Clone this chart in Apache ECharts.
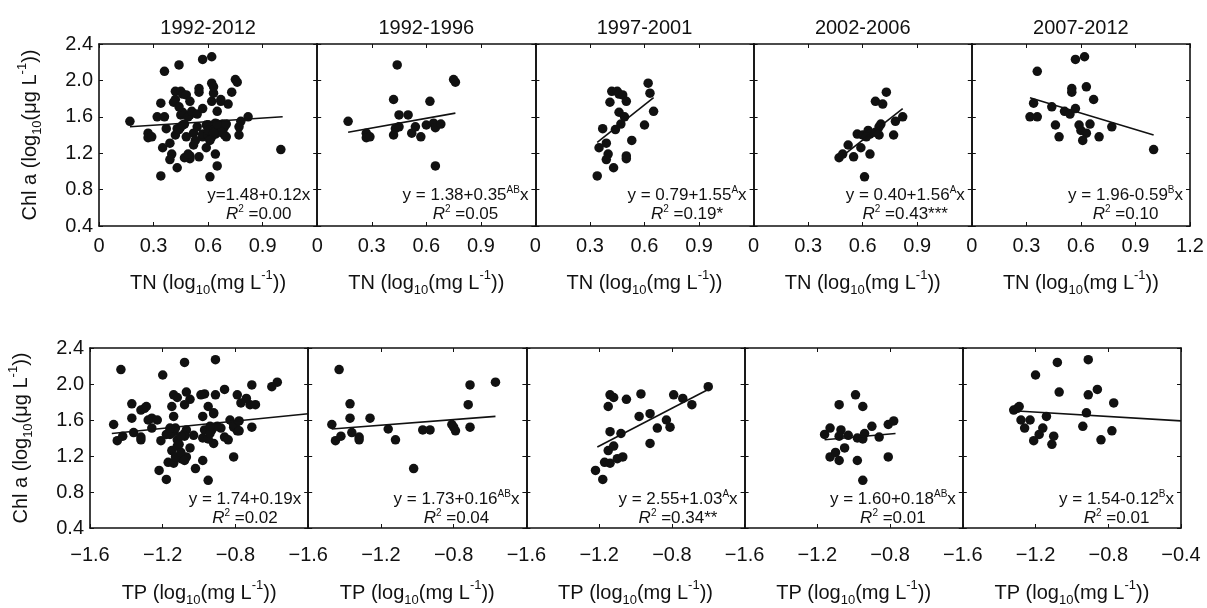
<!DOCTYPE html>
<html>
<head>
<meta charset="utf-8">
<title>Chl a vs TN / TP</title>
<script src="https://cdn.jsdelivr.net/npm/echarts@6/dist/echarts.min.js"></script>
<style>html,body{margin:0;padding:0;background:#fff;}</style>
</head>
<body>
<div id="main" style="width:1207px;height:608px;"></div>
<script type="text/javascript">
// periods (panel titles)
var periods = ['1992-2012', '1992-1996', '1997-2001', '2002-2006', '2007-2012'];

// TN (x) vs Chl a (y), one array per period
var tn9296 = [[0.17,1.55],[0.27,1.42],[0.27,1.37],[0.29,1.38],[0.42,1.40],[0.44,2.17],[0.42,1.79],[0.45,1.62],[0.43,1.47],[0.45,1.49],[0.50,1.62],[0.52,1.42],[0.54,1.49],[0.57,1.38],[0.62,1.77],[0.60,1.51],[0.64,1.53],[0.65,1.48],[0.68,1.52],[0.65,1.06],[0.75,2.01],[0.76,1.98]];
var tn9701 = [[0.34,0.95],[0.35,1.26],[0.37,1.47],[0.39,1.31],[0.40,1.19],[0.39,1.13],[0.43,1.04],[0.41,1.76],[0.42,1.88],[0.45,1.88],[0.46,1.85],[0.48,1.84],[0.50,1.77],[0.46,1.65],[0.49,1.60],[0.47,1.52],[0.44,1.46],[0.50,1.17],[0.50,1.14],[0.53,1.34],[0.62,1.97],[0.63,1.86],[0.65,1.66],[0.60,1.51]];
var tn0206 = [[0.47,1.15],[0.49,1.19],[0.52,1.29],[0.55,1.16],[0.59,1.26],[0.61,0.94],[0.64,1.19],[0.57,1.41],[0.60,1.40],[0.63,1.45],[0.64,1.41],[0.62,1.38],[0.67,1.77],[0.71,1.74],[0.73,1.87],[0.69,1.49],[0.70,1.52],[0.69,1.40],[0.77,1.40],[0.78,1.55],[0.82,1.60],[0.67,1.43]];
var tn0712 = [[0.32,1.60],[0.34,1.75],[0.36,2.10],[0.36,1.60],[0.44,1.71],[0.46,1.51],[0.48,1.38],[0.51,1.66],[0.54,1.63],[0.57,1.69],[0.55,1.87],[0.55,1.91],[0.57,2.23],[0.62,2.26],[0.63,1.93],[0.67,1.79],[0.59,1.51],[0.60,1.45],[0.63,1.42],[0.61,1.34],[0.65,1.52],[0.70,1.38],[0.77,1.49],[1.00,1.24]];

// TP (x) vs Chl a (y)
var tp9296 = [[-1.43,2.16],[-1.47,1.55],[-1.45,1.37],[-1.42,1.42],[-1.37,1.78],[-1.37,1.62],[-1.36,1.46],[-1.32,1.41],[-1.32,1.38],[-1.26,1.62],[-1.16,1.50],[-1.12,1.38],[-1.02,1.06],[-0.97,1.49],[-0.93,1.49],[-0.81,1.55],[-0.80,1.52],[-0.79,1.48],[-0.72,1.77],[-0.71,1.52],[-0.71,1.99],[-0.57,2.02]];
var tp9701 = [[-1.22,1.04],[-1.18,0.94],[-1.17,1.13],[-1.14,1.12],[-1.15,1.26],[-1.12,1.31],[-1.14,1.47],[-1.15,1.75],[-1.14,1.88],[-1.12,1.85],[-1.10,1.17],[-1.07,1.19],[-1.08,1.45],[-1.05,1.83],[-0.98,1.64],[-0.97,1.89],[-0.92,1.67],[-0.92,1.34],[-0.88,1.51],[-0.83,1.60],[-0.81,1.52],[-0.79,1.88],[-0.74,1.84],[-0.69,1.77],[-0.60,1.97]];
var tp0206 = [[-1.16,1.44],[-1.13,1.51],[-1.13,1.19],[-1.10,1.24],[-1.08,1.15],[-1.08,1.77],[-1.07,1.49],[-1.08,1.42],[-1.05,1.29],[-1.03,1.43],[-0.99,1.88],[-0.98,1.40],[-0.98,1.15],[-0.95,1.75],[-0.95,0.93],[-0.95,1.39],[-0.94,1.45],[-0.90,1.53],[-0.86,1.41],[-0.81,1.19],[-0.81,1.55],[-0.78,1.59]];
var tp0712 = [[-1.32,1.71],[-1.30,1.73],[-1.29,1.75],[-1.28,1.60],[-1.26,1.51],[-1.23,1.60],[-1.20,2.10],[-1.21,1.37],[-1.18,1.44],[-1.16,1.51],[-1.14,1.64],[-1.11,1.33],[-1.10,1.42],[-1.08,2.24],[-1.07,1.91],[-0.94,1.53],[-0.92,1.68],[-0.91,2.27],[-0.91,1.88],[-0.86,1.94],[-0.84,1.38],[-0.78,1.48],[-0.77,1.79]];

// 1992-2012 panel = all periods together
var tnAll = [].concat(tn9296, tn9701, tn0206, tn0712);
var tpAll = [].concat(tp9296, tp9701, tp0206, tp0712);

// regression lines: [x0, y0, x1, y1]
var fitTN = [[0.17,1.49,1.01,1.60],[0.17,1.43,0.76,1.64],[0.34,1.32,0.65,1.81],[0.47,1.14,0.82,1.69],[0.32,1.81,1.00,1.40]];
var fitTP = [[-1.48,1.45,-0.40,1.67],[-1.47,1.50,-0.57,1.64],[-1.21,1.30,-0.59,1.95],[-1.16,1.38,-0.77,1.45],[-1.30,1.70,-0.40,1.59]];

// equation text: [before superscript, superscript, after]
var eqTN = [['y=1.48+0.12x','',''],['y = 1.38+0.35','AB','x'],['y = 0.79+1.55','A','x'],['y = 0.40+1.56','A','x'],['y = 1.96-0.59','B','x']];
var eqTP = [['y = 1.74+0.19x','',''],['y = 1.73+0.16','AB','x'],['y = 2.55+1.03','A','x'],['y = 1.60+0.18','AB','x'],['y = 1.54-0.12','B','x']];
var r2TN = ['0.00', '0.05', '0.19*', '0.43***', '0.10'];
var r2TP = ['0.02', '0.04', '0.34**', '0.01', '0.01'];

// tick labels
var tnTicks = [0, 0.3, 0.6, 0.9, 1.2];
var tpTicks = [-1.6, -1.2, -0.8, -0.4];
var chlTicks = [0.4, 0.8, 1.2, 1.6, 2.0, 2.4];

var FONT = '"Liberation Sans", Arial, sans-serif';
var INK = '#111';
var PW = 218.2, PH = 182;

var ctx = document.createElement('canvas').getContext('2d');
function textWidth(s, size) {
    ctx.font = size + 'px ' + FONT;
    return ctx.measureText(s).width;
}

var subsup = {
    sub: {fontFamily: FONT, fontSize: 13, color: INK, verticalAlign: 'bottom', lineHeight: 28},
    sup: {fontFamily: FONT, fontSize: 13, color: INK, verticalAlign: 'top', lineHeight: 28}
};

var rows = [
    {left: 99, top: 44, pts: [tnAll, tn9296, tn9701, tn0206, tn0712], fit: fitTN, eq: eqTN, r2: r2TN, ticks: tnTicks,
     name: 'TN (log{sub|10}(mg L{sup|-1}))', labelMargin: 10, nameGap: 43, titles: true},
    {left: 90, top: 348, pts: [tpAll, tp9296, tp9701, tp0206, tp0712], fit: fitTP, eq: eqTP, r2: r2TP, ticks: tpTicks,
     name: 'TP (log{sub|10}(mg L{sup|-1}))', labelMargin: 17, nameGap: 51, titles: false}
];

var grid = [], xAxis = [], yAxis = [], series = [], graphic = [];

rows.forEach(function (row, r) {
    var tk = row.ticks;
    var step = +(tk[1] - tk[0]).toFixed(2);
    for (var i = 0; i < 5; i++) {
        var k = r * 5 + i;
        var gl = row.left + i * PW;
        grid.push({left: gl, top: row.top, width: PW, height: PH});

        var lineStyle = {color: INK, width: 1.6};
        var tick = {show: true, inside: true, length: 4, lineStyle: {color: INK, width: 1}};
        xAxis.push({
            gridIndex: k, type: 'value', position: 'bottom',
            min: tk[0], max: tk[tk.length - 1], interval: step,
            axisLine: {show: true, onZero: false, lineStyle: lineStyle},
            axisTick: tick, splitLine: {show: false},
            axisLabel: {
                showMaxLabel: i === 4, margin: row.labelMargin,
                fontFamily: FONT, fontSize: 20, color: INK,
                formatter: function (v) {
                    if (Math.abs(v) < 1e-9) return '0';
                    return v.toFixed(1).replace('-', '\u2212');
                }
            },
            name: row.name, nameLocation: 'middle', nameGap: row.nameGap,
            nameTextStyle: {fontFamily: FONT, fontSize: 20, color: INK, lineHeight: 28, rich: subsup}
        });
        xAxis.push({
            gridIndex: k, type: 'value', position: 'top',
            min: tk[0], max: tk[tk.length - 1], interval: step,
            axisLine: {show: true, onZero: false, lineStyle: lineStyle},
            axisTick: tick, axisLabel: {show: false}, splitLine: {show: false}
        });
        yAxis.push({
            gridIndex: k, type: 'value', position: 'left',
            min: chlTicks[0], max: chlTicks[chlTicks.length - 1], interval: 0.4,
            axisLine: {show: true, onZero: false, lineStyle: lineStyle},
            axisTick: tick, splitLine: {show: false},
            axisLabel: {
                show: i === 0, margin: 6, fontFamily: FONT, fontSize: 20, color: INK,
                formatter: function (v) { return v.toFixed(1); }
            },
            name: i === 0 ? 'Chl a (log{sub|10}(\u03bcg L{sup|-1}))' : '',
            nameLocation: 'middle', nameRotate: 90, nameGap: 55,
            nameTextStyle: {fontFamily: FONT, fontSize: 20, color: INK, lineHeight: 28, rich: subsup}
        });
        yAxis.push({
            gridIndex: k, type: 'value', position: 'right',
            min: chlTicks[0], max: chlTicks[chlTicks.length - 1], interval: 0.4,
            axisLine: {show: true, onZero: false, lineStyle: lineStyle},
            axisTick: tick, axisLabel: {show: false}, splitLine: {show: false}
        });

        series.push({
            type: 'scatter', xAxisIndex: 2 * k, yAxisIndex: 2 * k,
            data: row.pts[i], symbolSize: 9.5,
            itemStyle: {color: INK, opacity: 1}, silent: true
        });
        var f = row.fit[i];
        series.push({
            type: 'line', xAxisIndex: 2 * k, yAxisIndex: 2 * k,
            data: [[f[0], f[1]], [f[2], f[3]]],
            symbol: 'none', lineStyle: {color: INK, width: 1.6}, z: 3, silent: true
        });

        // equation + R2 text, centred on each other, tucked in the lower right corner
        var e = row.eq[i];
        var w = textWidth(e[0] + e[2], 17) + textWidth(e[1], 10);
        var cx = gl + PW - 7 - w / 2;
        var gb = row.top + PH;
        graphic.push({
            type: 'text', x: cx, y: gb - 31, silent: true,
            style: {
                text: e[0] + (e[1] ? '{sup|' + e[1] + '}' : '') + e[2],
                fontFamily: FONT, fontSize: 17, fill: INK, align: 'center', verticalAlign: 'middle',
                lineHeight: 19,
                rich: {sup: {fontFamily: FONT, fontSize: 10, fill: INK, verticalAlign: 'top', lineHeight: 19}}
            }
        });
        graphic.push({
            type: 'text', x: cx, y: gb - 12, silent: true,
            style: {
                text: '{i|R}{sup|2} =' + row.r2[i],
                fontFamily: FONT, fontSize: 17, fill: INK, align: 'center', verticalAlign: 'middle',
                lineHeight: 19,
                rich: {
                    i: {fontFamily: FONT, fontSize: 17, fontStyle: 'italic', fill: INK, lineHeight: 19},
                    sup: {fontFamily: FONT, fontSize: 10, fill: INK, verticalAlign: 'top', lineHeight: 19}
                }
            }
        });

        if (row.titles) {
            graphic.push({
                type: 'text', x: gl + PW / 2, y: 28, silent: true,
                style: {text: periods[i], fontFamily: FONT, fontSize: 20, fill: INK, align: 'center', verticalAlign: 'middle'}
            });
        }
    }
});

var chart = echarts.init(document.getElementById('main'));
chart.setOption({
    animation: false,
    backgroundColor: '#fff',
    grid: grid,
    xAxis: xAxis,
    yAxis: yAxis,
    series: series,
    graphic: graphic
});
</script>
</body>
</html>
